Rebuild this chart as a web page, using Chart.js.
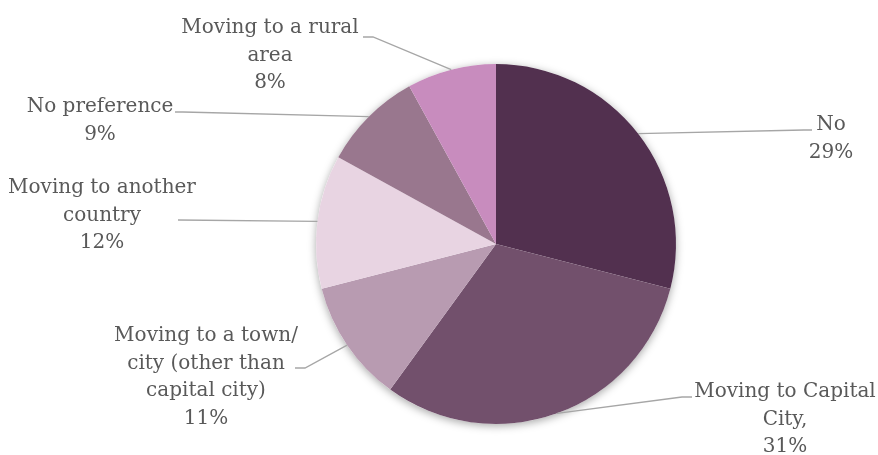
<!DOCTYPE html>
<html>
<head>
<meta charset="utf-8">
<style>
  html, body { margin: 0; padding: 0; background: #ffffff; }
  #chart { display: block; }
</style>
<script src="https://cdn.jsdelivr.net/npm/chart.js@4.4.1/dist/chart.umd.min.js"></script>
</head>
<body>
<canvas id="chart" width="878" height="455"></canvas>
<script>
// 回答分類與百分比
const categories = [
    'No',
    'Moving to Capital City,',
    'Moving to a town/city (other than capital city)',
    'Moving to another country',
    'No preference',
    'Moving to a rural area'
];
const values = [29, 31, 11, 12, 9, 8];

// 每個標籤換行後的文字
const labelLines = [
    ['No'],
    ['Moving to Capital', 'City,'],
    ['Moving to a town/', 'city (other than', 'capital city)'],
    ['Moving to another', 'country'],
    ['No preference'],
    ['Moving to a rural', 'area']
];

const sliceColors = ['#52304f', '#72506c', '#b89bb1', '#e8d4e2', '#99778e', '#c88cbe'];

// 標籤位置：x 為文字中心，y 為第一行基線，ax/ay 為導引線接點，tail 為水平短線長度
const labelLayout = [
    { x: 831, y: 130, ax: 812, ay: 130, tail: -8 },
    { x: 785, y: 397, ax: 692, ay: 397, tail: -10 },
    { x: 206, y: 341, ax: 295, ay: 368, tail: 10 },
    { x: 102, y: 193, ax: 178, ay: 220, tail: 0 },
    { x: 100, y: 112, ax: 175, ay: 112, tail: 8 },
    { x: 270, y: 33, ax: 363, ay: 37, tail: 10 }
];

const lineHeight = 27.5;
const labelFont = '20px "DejaVu Serif"';

// 圓餅底下的柔和陰影
const pieShadow = {
    id: 'pieShadow',
    beforeDatasetsDraw(chart) {
        const arc = chart.getDatasetMeta(0).data[0];
        if (!arc) return;
        const { x, y, outerRadius } = arc.getProps(['x', 'y', 'outerRadius'], true);
        const ctx = chart.ctx;
        ctx.save();
        ctx.shadowColor = 'rgba(0, 0, 0, 0.35)';
        ctx.shadowBlur = 9;
        ctx.shadowOffsetY = 2;
        ctx.fillStyle = '#ffffff';
        ctx.beginPath();
        ctx.arc(x, y, outerRadius, 0, Math.PI * 2);
        ctx.fill();
        ctx.restore();
    }
};

// 導引線與資料標籤
const outsideLabels = {
    id: 'outsideLabels',
    afterDatasetsDraw(chart) {
        const ctx = chart.ctx;
        const meta = chart.getDatasetMeta(0);
        const data = chart.data.datasets[0].data;
        meta.data.forEach((arc, i) => {
            const p = arc.getProps(['x', 'y', 'startAngle', 'endAngle', 'outerRadius'], true);
            const mid = (p.startAngle + p.endAngle) / 2;
            const ex = p.x + Math.cos(mid) * p.outerRadius;
            const ey = p.y + Math.sin(mid) * p.outerRadius;
            const pos = labelLayout[i];

            ctx.save();
            ctx.strokeStyle = '#a6a6a6';
            ctx.lineWidth = 1.3;
            ctx.beginPath();
            ctx.moveTo(pos.ax, pos.ay);
            ctx.lineTo(pos.ax + pos.tail, pos.ay);
            ctx.lineTo(ex, ey);
            ctx.stroke();

            ctx.fillStyle = '#595959';
            ctx.font = labelFont;
            ctx.textAlign = 'center';
            ctx.textBaseline = 'alphabetic';
            const lines = labelLines[i].concat([data[i] + '%']);
            lines.forEach((t, k) => {
                ctx.fillText(t, pos.x, pos.y + k * lineHeight);
            });
            ctx.restore();
        });
    }
};

new Chart(document.getElementById('chart'), {
    type: 'pie',
    data: {
        labels: categories,
        datasets: [{
            data: values,
            backgroundColor: sliceColors,
            borderWidth: 0
        }]
    },
    options: {
        responsive: false,
        animation: false,
        devicePixelRatio: 1,
        layout: {
            padding: { left: 316, right: 202, top: 64, bottom: 31 }
        },
        plugins: {
            legend: { display: false },
            tooltip: { enabled: false }
        }
    },
    plugins: [pieShadow, outsideLabels]
});
</script>
</body>
</html>
